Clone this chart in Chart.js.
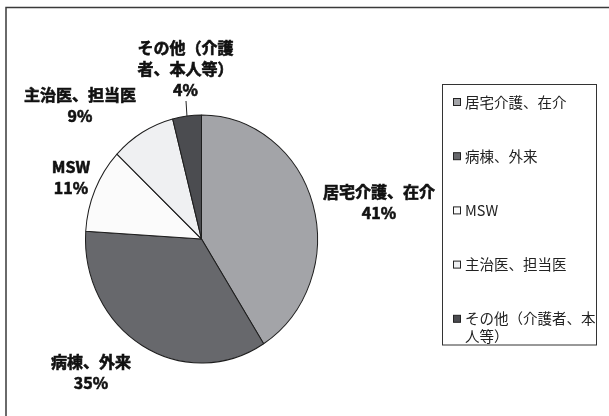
<!DOCTYPE html>
<html lang="ja">
<head>
<meta charset="utf-8">
<title>相談経路</title>
<script src="https://cdn.jsdelivr.net/npm/chart.js@4.4.1/dist/chart.umd.min.js"></script>
<style>
  html, body { margin: 0; padding: 0; background: #fff; }
  #wrap { width: 609px; height: 416px; }
</style>
</head>
<body>
<div id="wrap"><canvas id="pieChart" width="609" height="416"></canvas></div>
<script>
// 相談経路の内訳 (%)
const categories = ['居宅介護、在介', '病棟、外来', 'MSW', '主治医、担当医', 'その他（介護者、本人等）'];
const shares = [41, 35, 11, 9, 4];
// slice label text, split the way it is printed beside each slice
const sliceLabelLines = [
  ['居宅介護、在介'],
  ['病棟、外来'],
  ['MSW'],
  ['主治医、担当医'],
  ['その他（介護', '者、本人等）']
];
const sliceColors = ['#a3a4a8', '#67686c', '#fbfbfb', '#eff0f2', '#4b4c50'];

// first-line position of each slice label, relative to the pie centre
const labelOffsets = [[177.5, -47], [-110.5, 123], [-130.5, -72], [-121.5, -144], [-16, -191]];
const Y_STRETCH = 124 / 116;   // the pie is a little taller than wide
const JP_FONT = '"Noto Sans CJK JP", "Noto Sans", sans-serif';

// outer frame round the whole figure (right/bottom edges run off the page)
const pageFrame = {
  id: 'pageFrame',
  beforeDraw(chart) {
    const ctx = chart.ctx;
    ctx.save();
    ctx.strokeStyle = '#3a3a3a';
    ctx.lineWidth = 1.5;
    ctx.strokeRect(6, 7.5, 700, 500);
    ctx.restore();
  }
};

// squash the arcs into a slight ellipse around the pie centre
const stretchPie = {
  id: 'stretchPie',
  beforeDatasetsDraw(chart) {
    const arc = chart.getDatasetMeta(0).data[0];
    const ctx = chart.ctx;
    ctx.save();
    ctx.translate(arc.x, arc.y);
    ctx.scale(1, Y_STRETCH);
    ctx.translate(-arc.x, -arc.y);
  },
  afterDatasetsDraw(chart) {
    chart.ctx.restore();
  }
};

const sliceLabels = {
  id: 'sliceLabels',
  afterDraw(chart) {
    const ctx = chart.ctx;
    const arcs = chart.getDatasetMeta(0).data;
    ctx.save();
    ctx.fillStyle = '#111';
    ctx.strokeStyle = '#111';
    ctx.lineWidth = 0.6;
    ctx.font = 'bold 16px ' + JP_FONT;
    ctx.textAlign = 'center';
    ctx.textBaseline = 'middle';
    arcs.forEach((arc, i) => {
      const lines = sliceLabelLines[i].concat(shares[i] + '%');
      const lx = arc.x + labelOffsets[i][0];
      const ly = arc.y + labelOffsets[i][1];
      lines.forEach((t, k) => {
        // a thin stroke makes the heavy print weight
        ctx.fillText(t, lx, ly + k * 21);
        ctx.strokeText(t, lx, ly + k * 21);
      });
      // thin slices get a leader line from the rim up to the label
      if (shares[i] < 5) {
        const mid = (arc.startAngle + arc.endAngle) / 2;
        const ex = arc.x + arc.outerRadius * Math.cos(mid);
        const ey = arc.y + arc.outerRadius * Math.sin(mid) * Y_STRETCH;
        const lastY = ly + (lines.length - 1) * 21;
        ctx.beginPath();
        ctx.strokeStyle = '#222';
        ctx.lineWidth = 1;
        ctx.moveTo(ex, ey);
        ctx.lineTo(lx + 0.5, lastY + 11);
        ctx.stroke();
        ctx.strokeStyle = '#111';
        ctx.lineWidth = 0.6;
      }
    });
    ctx.restore();
  }
};

// wrap a string character by character to fit maxW
function wrapText(ctx, text, maxW) {
  const out = [];
  let cur = '';
  for (const ch of text) {
    if (cur && ctx.measureText(cur + ch).width > maxW) {
      out.push(cur);
      cur = ch;
    } else {
      cur += ch;
    }
  }
  if (cur) out.push(cur);
  return out;
}

// boxed legend on the right
const sideLegend = {
  id: 'sideLegend',
  afterDraw(chart) {
    const ctx = chart.ctx;
    const box = { x: 442.5, y: 84.5, w: 154, h: 260.5 };
    ctx.save();
    ctx.strokeStyle = '#333';
    ctx.lineWidth = 1;
    ctx.strokeRect(box.x, box.y, box.w, box.h);
    ctx.font = '14.5px ' + JP_FONT;
    ctx.textBaseline = 'middle';
    ctx.textAlign = 'left';
    categories.forEach((name, i) => {
      const y = 102 + i * 54.2;
      ctx.fillStyle = sliceColors[i];
      ctx.fillRect(453.5, y - 3.5, 7, 7);
      ctx.strokeStyle = '#222';
      ctx.strokeRect(453.5, y - 3.5, 7, 7);
      ctx.fillStyle = '#222';
      wrapText(ctx, name, 131).forEach((t, k) => ctx.fillText(t, 465, y + k * 18));
    });
    ctx.restore();
  }
};

new Chart(document.getElementById('pieChart'), {
  type: 'pie',
  data: {
    labels: categories,
    datasets: [{
      data: shares,
      backgroundColor: sliceColors,
      borderColor: '#1e1e1e',
      borderWidth: 1,
      clip: false
    }]
  },
  options: {
    responsive: false,
    animation: false,
    devicePixelRatio: 1,
    events: [],
    layout: { padding: { left: 85, right: 291, top: 122.5, bottom: 60.5 } },
    plugins: {
      legend: { display: false },
      tooltip: { enabled: false }
    }
  },
  plugins: [pageFrame, stretchPie, sliceLabels, sideLegend]
});
</script>
</body>
</html>
